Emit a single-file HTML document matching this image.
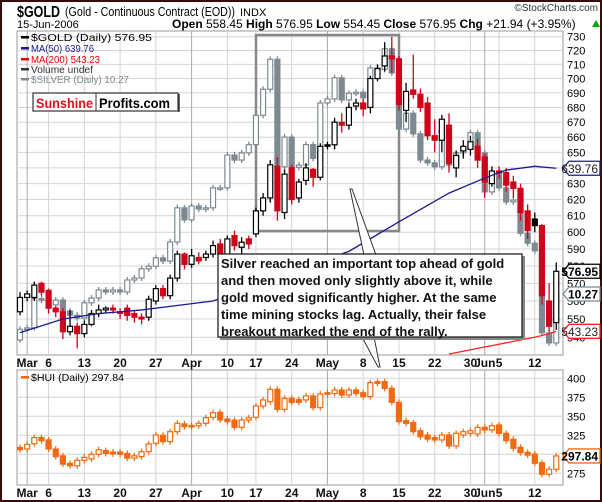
<!DOCTYPE html>
<html><head><meta charset="utf-8"><style>
html,body{margin:0;padding:0;background:#fff;}
svg{display:block;font-family:"Liberation Sans",sans-serif;}
</style></head><body>
<svg id="c" width="602" height="502" viewBox="0 0 602 502" xmlns="http://www.w3.org/2000/svg">
<rect x="0" y="0" width="602" height="502" fill="#fff"/>
<rect x="1" y="1" width="600" height="500" fill="none" stroke="#3a0a0a" stroke-width="2"/>
<text x="17" y="17" font-size="16" font-weight="bold" textLength="43" lengthAdjust="spacingAndGlyphs">$GOLD</text>
<text x="65" y="16" font-size="12.5" textLength="170" lengthAdjust="spacingAndGlyphs">(Gold - Continuous Contract (EOD))</text>
<text x="240" y="16" font-size="11">INDX</text>
<text x="17" y="28" font-size="11">15-Jun-2006</text>
<text x="172" y="28" font-size="12"><tspan font-weight="bold">Open</tspan> 558.45 <tspan font-weight="bold">High</tspan> 576.95 <tspan font-weight="bold">Low</tspan> 554.45 <tspan font-weight="bold">Close</tspan> 576.95 <tspan font-weight="bold">Chg</tspan> +21.94 (+3.95%)</text>
<polygon points="592,27 600,27 596,20" fill="#0a0"/>
<text x="598" y="11" font-size="10" text-anchor="end" fill="#333">©StockCharts.com</text>
<g id="g"></g>
</svg>
<script>
const dates=["Mar","6","13","20","27","Apr","10","17","24","May","8","15","22","30","Jun","5","12"];
const dateIdx=[1,4,9,14,19,24,29,33,38,43,48,53,58,63,65,67,72];
const goldTicks=[540,550,560,570,580,590,600,610,620,630,640,650,660,670,680,690,700,710,720,730];
const huiTicks=[275,300,325,350,375,400];
const huiTickLabels=["275","","325","350","375","400"];
const goldOpen=[554,562,562,570,566,556,554,543,546,542,547,553,555,556,554,556,553,551,551,560,567,563,573,587,581,585,585,587,593,586,598,591,596,599,613,621,641,612,640,621,632,639,634,655,655,670,668,681,683,680,700,709,716,714,678,692,689,683,661,658,668,640,651,652,654,647,630,638,637,631,627,613,608,604,560,548];
const goldClose=[562,564,569,565,556,554,543,546,542,547,553,555,556,555,554,552,551,550,561,567,563,573,587,581,586,583,587,592,587,596,592,594,593,613,621,642,613,636,620,631,640,634,654,655,670,668,680,683,679,700,707,716,714,682,691,689,680,661,658,672,643,648,654,657,645,631,638,637,629,627,612,601,604,563,546,576.95];
const goldHigh=[565,566,571,571,567,557,556,555,548,549,555,558,557,558,556,558,555,553,563,569,569,575,589,588,590,588,589,595,596,598,601,597,598,615,624,645,647,639,642,633,643,640,656,657,673,676,683,686,686,702,710,726,730,716,697,717,693,687,672,675,676,651,658,661,659,649,641,641,640,635,630,617,612,605,570,582];
const goldLow=[552,560,560,563,553,551,539,541,534,540,546,551,553,553,550,549,548,547,549,558,561,561,571,578,579,581,583,585,584,584,589,587,590,597,610,618,607,608,617,618,629,628,632,652,652,663,665,678,674,676,698,705,704,678,670,686,677,658,650,650,637,634,646,648,640,621,628,633,625,621,607,596,600,558,543,544];
const silverOpen=[9.61,9.76,9.78,10.20,10.18,10.11,10.18,10.02,9.96,9.92,10.14,10.21,10.33,10.30,10.33,10.30,10.48,10.51,10.65,10.69,10.82,10.77,11.07,11.63,11.43,11.66,11.61,11.63,11.97,11.97,12.55,12.46,12.59,12.74,13.29,13.80,14.41,12.34,12.88,12.33,12.37,12.74,12.49,13.53,13.61,14.03,13.59,13.72,13.74,13.63,14.23,14.20,14.63,14.13,13.03,13.33,12.94,12.46,12.41,12.34,13.01,12.37,12.59,12.68,12.96,12.59,11.90,12.25,11.97,11.73,11.76,11.21,11.05,10.93,9.71,9.57];
const silverClose=[9.76,9.78,10.20,10.18,10.11,10.18,10.02,9.96,9.92,10.14,10.21,10.33,10.30,10.33,10.30,10.48,10.51,10.65,10.69,10.82,10.77,11.07,11.63,11.43,11.66,11.61,11.63,11.97,11.97,12.55,12.46,12.59,12.74,13.29,13.80,14.41,12.34,12.88,12.33,12.37,12.74,12.49,13.53,13.61,14.03,13.59,13.72,13.74,13.63,14.23,14.20,14.63,14.13,13.03,13.33,12.94,12.46,12.41,12.34,13.01,12.37,12.59,12.68,12.96,12.59,11.90,12.25,11.97,11.73,11.76,11.21,11.05,10.93,9.71,9.57,10.27];
const ma50Idx=[0,2,6,11,17,21,27,46,53,60,65,68,72,75];
const ma50Val=[542.5,545,550,553,555,557,560,588.6,606.3,624,633.5,638.6,641,639.76];
const ma200Idx=[60,62,64,66,68,70,72,74,75];
const ma200Val=[531,532.5,534,535.5,537,538.5,540,542,543.23];
const huiOpen=[309,307,314,322,319,307,298,288,285,292,294,300,305,303,303,301,295,297,303.5,314.5,325,316.7,329.8,340,338,337.7,340.8,348.7,355.3,346.5,345,335.5,345,348.7,363.6,369.3,385.5,359.2,373.7,372,371.5,376.8,361.4,381,380,384.6,378,384.6,381,376,395.6,395.6,386.8,368.4,344.3,341.7,331,325.4,322,318.9,325.4,311,325.4,327.6,326.7,335.5,332,338.6,327.6,319.7,309.2,302.6,300.4,289,273.7,280.3];
const huiClose=[306,313,322,318,307,297,287,285,292,296,300,306,301,300.5,300,295,298,303.5,313.6,325.4,316.7,329.8,340.8,336.4,336.4,340.8,348.2,354.8,345.2,343,335.5,345.2,348,363.6,371.5,385.5,359.2,373.7,368.4,368.4,376.8,361.4,379.4,379.4,384.6,378,384.6,380,376,394.3,393.4,386.8,368.4,343,340.8,329.8,323.2,320,318.9,325.4,311,327.6,329.8,331,335.5,332,337.7,327.6,318,307.9,302.2,299,288.2,273.7,280.3,297.84];

const NS="http://www.w3.org/2000/svg";
const G=document.getElementById('g');
const L=17,R=563,T1=31,B1=355,T2=370,B2=485;
function xs(i){return 20+7.15*i;}
function yG(v){return 36.7+997*Math.log(730/v);}
function yS(s){return 294+693*Math.log(10.27/s);}
function yH(v){return 378.3+(400-v)*0.76;}
function mk(tag,attrs,parent){const e=document.createElementNS(NS,tag);for(const k in attrs)e.setAttribute(k,attrs[k]);(parent||G).appendChild(e);return e;}

let p1=mk('rect',{x:L,y:T1,width:R-L,height:B1-T1,fill:'#fff',stroke:'#999'});


let p2=mk('rect',{x:L,y:T2,width:R-L,height:B2-T2,fill:'#fff',stroke:'#999'});



goldTicks.forEach(v=>{const y=yG(v);
 let l=mk('line',{x1:L,x2:R,y1:y,y2:y,stroke:'#d4d4d4'});
 
 
 let t=mk('text',{x:567,y:y+4,'font-size':11});t.textContent=v;
 
 
});
huiTicks.forEach((v,k)=>{const y=yH(v);
 let l=mk('line',{x1:L,x2:R,y1:y,y2:y,stroke:'#d4d4d4'});
 
 
 let t=mk('text',{x:567,y:y+4,'font-size':11});t.textContent=huiTickLabels[k];
 
 
});
dateIdx.forEach((d,k)=>{const x=xs(d);const month=isNaN(+dates[k]);
 [[T1,B1,367],[T2,B2,497]].forEach(([a,b,ty])=>{
  let l=mk('line',{x1:x,x2:x,y1:a,y2:b,stroke:month?'#aaa':'#d4d4d4'});
  
  
  let t=mk('text',{x:x,y:ty,'font-size':12,'font-weight':'bold','text-anchor':'middle',fill:'#111'});t.textContent=dates[k];
  
  
 });
});

let hr=mk('rect',{x:256,y:35,width:143,height:196,fill:'none',stroke:'#888',"stroke-width":2.5});



silverClose.forEach((c,i)=>{const o=silverOpen[i];const x=xs(i);
 const yo=yS(o),yc=yS(c);const top=Math.min(yo,yc),bot=Math.max(yo,yc);
 let w=mk('line',{x1:x,x2:x,y1:top-3,y2:bot+3,stroke:'#7d8a92','stroke-width':1.3});
 
 
 let b=mk('rect',{x:x-2.5,y:top,width:5,height:Math.max(bot-top,1.5),fill:c>=o?'#fff':'#7d8a92',stroke:'#7d8a92','stroke-width':1.2});
 
 
});

goldClose.forEach((c,i)=>{const o=goldOpen[i];const x=xs(i);
 const prev=i>0?goldClose[i-1]:o;const col=c<prev?'#d0021b':'#000';
 const yo=yG(o),yc=yG(c);const top=Math.min(yo,yc),bot=Math.max(yo,yc);
 let w=mk('line',{x1:x,x2:x,y1:yG(goldHigh[i]),y2:yG(goldLow[i]),stroke:col,'stroke-width':1.3});
 
 
 let b=mk('rect',{x:x-2.5,y:top,width:5,height:Math.max(bot-top,1.5),fill:c>o?'#fff':col,stroke:col,'stroke-width':1.2});
 
 
});

let m50=mk('polyline',{points:ma50Idx.map((d,k)=>xs(d)+','+yG(ma50Val[k])).join(' '),fill:'none',stroke:'#1a1a90','stroke-width':1.3});


let m200=mk('polyline',{points:ma200Idx.map((d,k)=>xs(d)+','+Math.min(B1,yG(ma200Val[k]))).join(' '),fill:'none',stroke:'#f22','stroke-width':1.3});



huiClose.forEach((c,i)=>{const o=huiOpen[i];const x=xs(i);
 const yo=yH(o),yc=yH(c);const top=Math.min(yo,yc),bot=Math.max(yo,yc);
 let w=mk('line',{x1:x,x2:x,y1:top-3,y2:bot+3,stroke:'#f26a10','stroke-width':1.2});
 
 
 let b=mk('rect',{x:x-2.5,y:top,width:5,height:Math.max(bot-top,1.5),fill:c>o?'#fff':'#f26a10',stroke:'#f26a10','stroke-width':1.2});
 
 
});

const leg=[["$GOLD (Daily) 576.95","#000",41,121],["MA(50) 639.76","#1a1a90",52,63],["MA(200) 543.23","#e00",63,69],["Volume undef","#333",73,62],["$SILVER (Daily) 10.27","#7d8a92",83,98]];
leg.forEach(([s,col,y,w])=>{
 let t=mk('text',{x:31,y:y,'font-size':10.5,fill:col,textLength:w,lengthAdjust:'spacingAndGlyphs'});t.textContent=s;
 
 
 let k=mk('rect',{x:21,y:y-5,width:8,height:2.5,fill:col});
 
 
});
let hl=mk('text',{x:31,y:381,'font-size':10.5,fill:'#000',textLength:93,lengthAdjust:'spacingAndGlyphs'});hl.textContent="$HUI (Daily) 297.84";


let hk=mk('rect',{x:21,y:376,width:8,height:2.5,fill:'#f26a10'});



let lg=mk('rect',{x:33,y:93,width:145,height:18,fill:'#fff',stroke:'#333','stroke-width':1.2});


let lgs=mk('line',{x1:179,y1:94,x2:179,y2:112,stroke:'#333','stroke-width':1.5});


let ld=mk('line',{x1:96,y1:93,x2:96,y2:111,stroke:'#333'});


let l1=mk('text',{x:36,y:108,'font-size':14,'font-weight':'bold',fill:'#e0101a',textLength:57,lengthAdjust:'spacingAndGlyphs'});l1.textContent="Sunshine";


let l2=mk('text',{x:99,y:108,'font-size':14,'font-weight':'bold',fill:'#000',textLength:71,lengthAdjust:'spacingAndGlyphs'});l2.textContent="Profits.com";



let c1=mk('polygon',{points:'350,189 352,189 376,255 364,255',fill:'#fff',stroke:'#333','stroke-width':1});


let c2=mk('polygon',{points:'362,337 374,337 380,367 378,367',fill:'#fff',stroke:'#333','stroke-width':1});



let sh=mk('rect',{x:220,y:256,width:305,height:84,fill:'#888'});


let ab=mk('rect',{x:218,y:254,width:304,height:83,fill:'#fff',stroke:'#222','stroke-width':1.3});


const lines=["Silver reached an important top ahead of gold","and then moved only slightly above it, while","gold moved significantly higher. At the same","time mining stocks lag. Actually, their false","breakout marked the end of the rally."];
lines.forEach((s,k)=>{let t=mk('text',{x:221,y:268+k*17,'font-size':13,'font-weight':'bold',fill:'#111'});t.textContent=s;
 
 
});

function tag(y,txt,col,bold,name){
 let p=mk('polygon',{points:`563,${y} 569,${y-7} 600,${y-7} 600,${y+7} 569,${y+7}`,fill:'#fff',stroke:col,'stroke-width':1.3});
 
 
 let t=mk('text',{x:598,y:y+4.5,'font-size':12,'font-weight':bold?'bold':'normal','text-anchor':'end',fill:bold?'#000':'#222'});t.textContent=txt;
 
 
}
tag(yG(639.76),"639.76","#1a1a90",false,'ma50-tag');
tag(yG(576.95),"576.95","#000",true,'gold-price-tag');
tag(yS(10.27),"10.27","#7d8a92",true,'silver-price-tag');
tag(yG(543.23),"543.23","#f22",false,'ma200-tag');
tag(yH(297.84),"297.84","#f26a10",true,'hui-price-tag');
</script>
</body></html>
